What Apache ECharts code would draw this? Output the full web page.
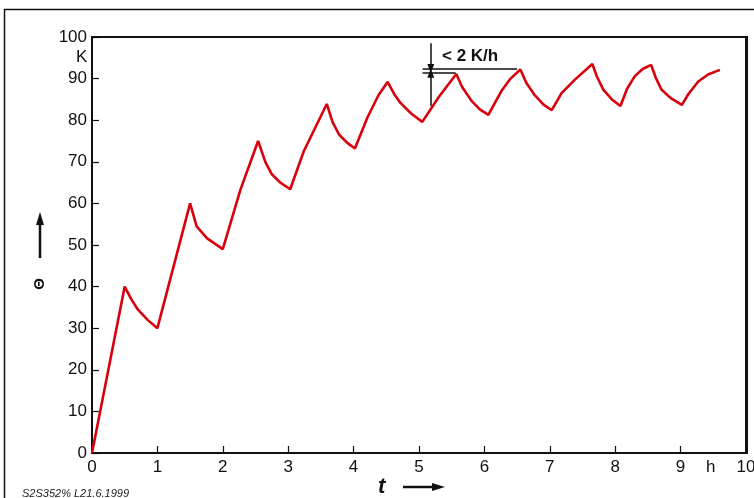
<!DOCTYPE html>
<html>
<head>
<meta charset="utf-8">
<script src="https://cdn.jsdelivr.net/npm/echarts@6/dist/echarts.min.js"></script>
<style>
html,body{margin:0;padding:0;background:#fff;overflow:hidden;width:754px;height:498px;}
#chart{width:754px;height:498px;overflow:hidden;}
</style>
</head>
<body>
<div id="chart"></div>
<script>
// Time in hours
const hours = [0, 0.5, 0.6, 0.7, 0.85, 1.0, 1.5, 1.6, 1.76, 2.0, 2.27, 2.54, 2.65, 2.75, 2.88, 3.03, 3.24, 3.59, 3.68, 3.78, 3.9, 4.02, 4.21, 4.38, 4.52, 4.62, 4.72, 4.88, 5.05, 5.3, 5.57, 5.66, 5.8, 5.93, 6.06, 6.26, 6.4, 6.55, 6.64, 6.77, 6.9, 7.03, 7.18, 7.38, 7.65, 7.72, 7.82, 7.95, 8.08, 8.18, 8.3, 8.42, 8.55, 8.62, 8.71, 8.85, 9.02, 9.12, 9.27, 9.42, 9.6];
// Temperature rise Θ in K
const theta = [0, 40, 37, 34.5, 32, 30, 60, 54.5, 51.6, 49, 63.3, 75, 70, 67, 65, 63.4, 72.6, 83.9, 79.5, 76.5, 74.6, 73.2, 80.6, 86, 89.2, 86.3, 84.1, 81.6, 79.6, 85.5, 91.1, 88, 84.7, 82.6, 81.3, 87, 90, 92.2, 89, 86, 83.8, 82.4, 86.5, 89.7, 93.5, 90.5, 87.3, 85, 83.4, 87.5, 90.6, 92.3, 93.3, 90.2, 87.3, 85.3, 83.7, 86.3, 89.3, 91, 92.1];
const xTicks = ['0','1','2','3','4','5','6','7','8','9','10'];
const yTicks = ['0','10','20','30','40','50','60','70','80','90','100'];
// annotation: "< 2 K/h" limit markers (in data units)
const annotText = '< 2 K/h';
const limitUpper = 92.4;
const limitLower = 91.3;
const annotX = 5.18;

const series = hours.map((h, i) => [h, theta[i]]);
const FONT = '"Liberation Sans", Arial, sans-serif';

const chart = echarts.init(document.getElementById('chart'), null, {renderer: 'canvas', width: 754, height: 498});
chart.setOption({
  animation: false,
  backgroundColor: '#fff',
  grid: {left: 92, top: 37, right: 8, bottom: 45, containLabel: false, outerBoundsMode: 'none',
    show: true, borderColor: '#111', borderWidth: 2, backgroundColor: 'transparent'},
  xAxis: {
    type: 'value', min: 0, max: 10, interval: 1,
    axisLine: {show: true, lineStyle: {color: '#111', width: 2}},
    axisTick: {show: true, inside: true, length: 7, lineStyle: {color: '#111', width: 1.2}},
    axisLabel: {show: true, color: '#111', fontSize: 17, fontFamily: FONT, margin: 6, showMaxLabel: true, showMinLabel: true,
      formatter: v => xTicks[Math.round(v)]},
    splitLine: {show: false}
  },
  yAxis: {
    type: 'value', min: 0, max: 100, interval: 10,
    axisLine: {show: true, lineStyle: {color: '#111', width: 2}},
    axisTick: {show: true, inside: true, length: 7, lineStyle: {color: '#111', width: 1.2}},
    axisLabel: {show: true, color: '#111', fontSize: 17, fontFamily: FONT, margin: 5,
      formatter: v => yTicks[Math.round(v / 10)]},
    splitLine: {show: false}
  },
  series: [{
    type: 'line',
    data: series,
    showSymbol: false,
    smooth: false,
    lineStyle: {color: '#d8000c', width: 2.6},
    markLine: {
      silent: true,
      animation: false,
      label: {show: false},
      lineStyle: {color: '#111', width: 1.5, type: 'solid'},
      symbol: ['none', 'none'],
      data: [
        [{coord: [5.055, limitUpper]}, {coord: [6.5, limitUpper]}],
        [{coord: [5.055, limitLower]}, {coord: [5.56, limitLower]}],
        [{coord: [annotX, 98.5], symbol: 'none'}, {coord: [annotX, limitUpper], symbol: 'triangle', symbolSize: [7, 9], symbolRotate: 180}],
        [{coord: [annotX, 83.4], symbol: 'none'}, {coord: [annotX, limitLower], symbol: 'triangle', symbolSize: [7, 9], symbolRotate: 0}]
      ]
    }
  }],
  graphic: [
    // outer frame
    {type: 'line', shape: {x1: 4, y1: 9.5, x2: 754, y2: 9.5}, style: {stroke: '#111', lineWidth: 1.5}},
    {type: 'line', shape: {x1: 4.5, y1: 9, x2: 4.5, y2: 498}, style: {stroke: '#111', lineWidth: 1.5}},
    // thicker right plot edge
    {type: 'line', shape: {x1: 746.5, y1: 36, x2: 746.5, y2: 454}, style: {stroke: '#111', lineWidth: 3}},
    // unit K
    {type: 'text', left: 76, top: 49, style: {text: 'K', fill: '#111', font: '17px ' + FONT}},
    // h unit on x
    {type: 'text', left: 706, top: 459, style: {text: 'h', fill: '#111', font: '17px ' + FONT}},
    // annotation text
    {type: 'text', left: 442, top: 48, style: {text: annotText, fill: '#111', font: 'bold 17px ' + FONT}},
    // y-axis symbol arrow
    {type: 'line', shape: {x1: 40, y1: 258, x2: 40, y2: 222}, style: {stroke: '#111', lineWidth: 2.5}},
    {type: 'polygon', shape: {points: [[40, 212], [36, 225], [44, 225]]}, style: {fill: '#111'}},
    {type: 'text', x: 40, y: 284, rotation: Math.PI / 2, style: {text: 'Θ', fill: '#111', font: 'bold 15px ' + FONT, textAlign: 'center', textVerticalAlign: 'middle'}},
    // x-axis symbol t with arrow
    {type: 'text', left: 378, top: 476, style: {text: 't', fill: '#111', font: 'italic bold 22px ' + FONT}},
    {type: 'line', shape: {x1: 403, y1: 487, x2: 434, y2: 487}, style: {stroke: '#111', lineWidth: 2.5}},
    {type: 'polygon', shape: {points: [[445, 487], [432, 483], [432, 491]]}, style: {fill: '#111'}},
    // footer code
    {type: 'text', left: 22, top: 488, style: {text: 'S2S352% L21.6.1999', fill: '#222', font: 'italic 11px ' + FONT}}
  ]
});
</script>
</body>
</html>
